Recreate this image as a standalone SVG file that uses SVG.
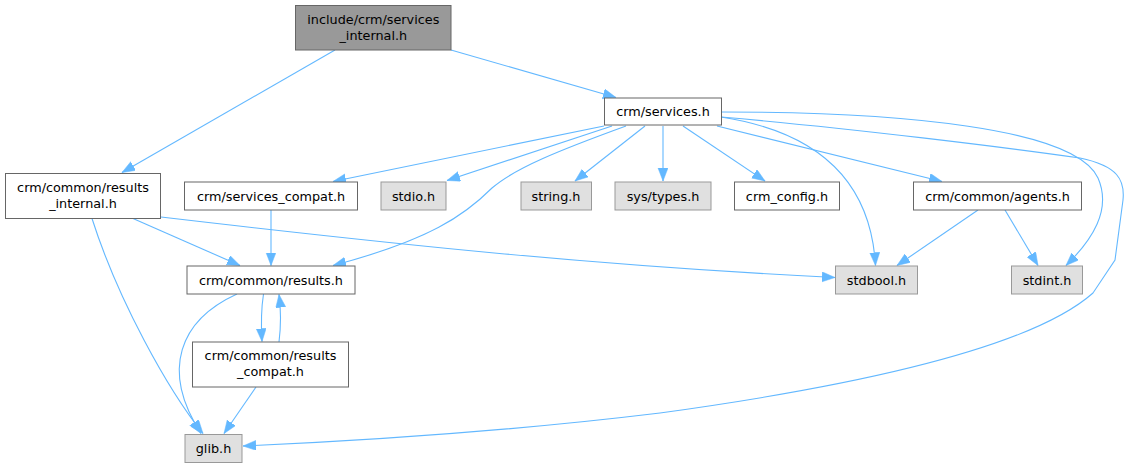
<svg xmlns="http://www.w3.org/2000/svg" width="1128" height="468" viewBox="0 0 1128 468">
<style>
.box{fill:#ffffff;stroke:#666666;stroke-width:1}
.sys{fill:#e0e0e0;stroke:#999999;stroke-width:1}
.cur{fill:#999999;stroke:#666666;stroke-width:1}
text{font-family:"DejaVu Sans","Liberation Sans",sans-serif;font-size:12.8px;fill:#000000;text-anchor:middle}
.e{fill:none;stroke:#63b8ff;stroke-width:1.1;marker-end:url(#arr)}
</style>
<defs>
<marker id="arr" markerUnits="userSpaceOnUse" markerWidth="14" markerHeight="11" refX="13" refY="5" orient="auto">
<path d="M0,0 L13,5 L0,10 z" fill="#63b8ff" stroke="#63b8ff" stroke-width="0.5"/>
</marker>
</defs>
<rect width="1128" height="468" fill="#ffffff"/>
<g id="edges">
<path class="e" d="M451,50 L616,97.5"/>
<path class="e" d="M335,50 L122,172.5"/>
<path class="e" d="M604,126 L333,181.5"/>
<path class="e" d="M612,126 L447,180.5"/>
<path class="e" d="M626,126 C560,150 515,168 492,188 C465,215 430,240 333,265.5"/>
<path class="e" d="M645,126 L575,181"/>
<path class="e" d="M663,126 L663,181"/>
<path class="e" d="M683,126 L765,181"/>
<path class="e" d="M717,126 L942,181.5"/>
<path class="e" d="M721,117 C805,130 870,170 875.5,265.5"/>
<path class="e" d="M721,112 C900,112 1075,128 1098,178 C1112,210 1092,240 1066,265.5"/>
<path class="e" d="M721,117 C850,128 1010,148 1080,158 C1118,166 1125,180 1123,200 L1115,260 L1093,293 C1040,340 900,380 660,413 C520,430 380,440 243,446"/>
<path class="e" d="M133,218.5 L240,265.5"/>
<path class="e" d="M161,217 C400,245 600,266 835,277.5"/>
<path class="e" d="M92,218.5 C118,300 168,390 203,433.5"/>
<path class="e" d="M271,210 L271,265.5"/>
<path class="e" d="M263.5,294 C261,310 261,325 262,341.5"/>
<path class="e" d="M279,342 C281,326 281,310 279,294.5"/>
<path class="e" d="M237,294 C180,320 160,370 201,433.5"/>
<path class="e" d="M256,387 L224,433.5"/>
<path class="e" d="M978,210 L897,265.5"/>
<path class="e" d="M1005,210 L1038,265.5"/>
</g>
<g id="n0"><rect class="cur" x="295.5" y="5.5" width="155.5" height="44.5"/><text x="373.3" y="23.5">include/crm/services</text><text x="373.3" y="39.5">_internal.h</text></g>
<g id="n1"><rect class="box" x="604.5" y="98" width="117" height="27"/><text x="663" y="116">crm/services.h</text></g>
<g id="n2"><rect class="box" x="5.5" y="173.5" width="155" height="45"/><text x="83" y="191.5">crm/common/results</text><text x="83" y="207.5">_internal.h</text></g>
<g id="n3"><rect class="box" x="184.5" y="182" width="173" height="28"/><text x="271" y="200.5">crm/services_compat.h</text></g>
<g id="n4"><rect class="sys" x="381" y="182" width="65" height="28"/><text x="413.5" y="200.5">stdio.h</text></g>
<g id="n5"><rect class="sys" x="521" y="182" width="70.5" height="28"/><text x="556" y="200.5">string.h</text></g>
<g id="n6"><rect class="sys" x="615" y="182" width="96" height="28"/><text x="663" y="200.5">sys/types.h</text></g>
<g id="n7"><rect class="box" x="734.5" y="182" width="105" height="28"/><text x="787" y="200.5">crm_config.h</text></g>
<g id="n8"><rect class="box" x="913.5" y="182" width="168" height="28"/><text x="997.5" y="200.5">crm/common/agents.h</text></g>
<g id="n9"><rect class="box" x="187" y="266" width="168" height="28"/><text x="271" y="284.5">crm/common/results.h</text></g>
<g id="n10"><rect class="sys" x="835.5" y="266" width="82" height="28"/><text x="876.5" y="284.5">stdbool.h</text></g>
<g id="n11"><rect class="sys" x="1011.5" y="266" width="71" height="28"/><text x="1047" y="284.5">stdint.h</text></g>
<g id="n12"><rect class="box" x="192.5" y="342" width="156" height="45"/><text x="270.5" y="360">crm/common/results</text><text x="270.5" y="376">_compat.h</text></g>
<g id="n13"><rect class="sys" x="185" y="434.5" width="57" height="28"/><text x="213.5" y="453">glib.h</text></g>
</svg>
